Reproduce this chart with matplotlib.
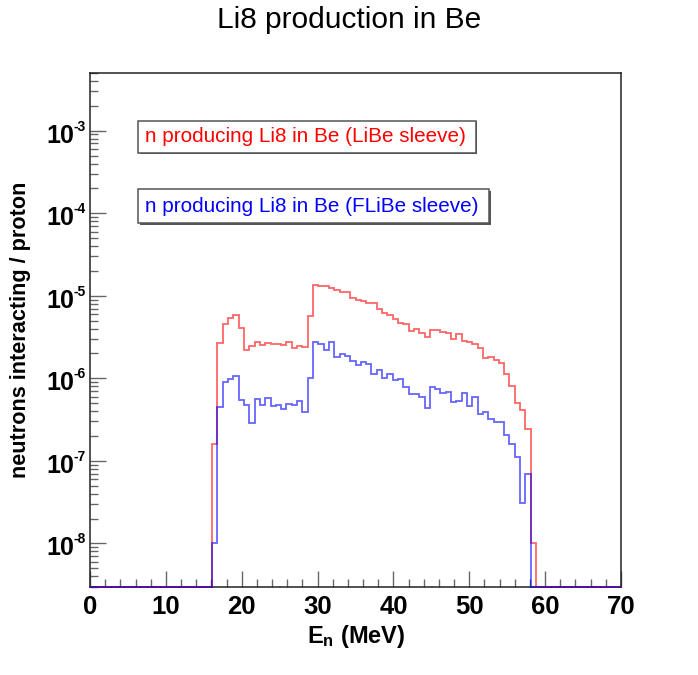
import numpy as np
import matplotlib
matplotlib.use("Agg")
import matplotlib.pyplot as plt
import matplotlib.transforms as mtransforms
from matplotlib.patches import Rectangle
from matplotlib.ticker import MultipleLocator, LogLocator, NullFormatter

plt.rcParams['font.family'] = ['Liberation Sans', 'DejaVu Sans']
plt.rcParams['mathtext.fontset'] = 'custom'
plt.rcParams['mathtext.rm'] = 'Liberation Sans'
plt.rcParams['mathtext.bf'] = 'Liberation Sans:bold'

# histogram: 100 bins of 0.7 MeV from 0 to 70, non-zero bins start at index 23
nbins = 100
xmin, xmax = 0.0, 70.0
first_bin = 23

libe_vals = [1.62e-7, 2.65e-6, 4.58e-6, 5.42e-6, 5.89e-6, 4.10e-6, 2.22e-6, 2.48e-6,
             2.73e-6, 2.55e-6, 2.70e-6, 2.62e-6, 2.62e-6, 2.55e-6, 2.77e-6, 2.33e-6,
             2.48e-6, 2.41e-6, 5.73e-6, 1.35e-5, 1.33e-5, 1.30e-5, 1.25e-5, 1.19e-5,
             1.10e-5, 1.10e-5, 9.29e-6, 8.95e-6, 8.71e-6, 8.08e-6, 8.08e-6, 6.84e-6,
             6.12e-6, 5.89e-6, 5.18e-6, 4.72e-6, 4.59e-6, 3.77e-6, 3.95e-6, 3.50e-6,
             3.13e-6, 3.88e-6, 3.88e-6, 3.67e-6, 3.57e-6, 3.02e-6, 3.40e-6, 2.85e-6,
             2.73e-6, 2.58e-6, 2.35e-6, 1.78e-6, 1.83e-6, 1.68e-6, 1.55e-6, 1.14e-6,
             8.14e-7, 5.07e-7, 4.17e-7, 2.41e-7, 1.0e-8]

flibe_vals = [1.0e-8, 4.53e-7, 9.02e-7, 9.81e-7, 1.07e-6, 5.41e-7, 4.75e-7, 2.90e-7,
              5.56e-7, 4.75e-7, 5.72e-7, 4.66e-7, 4.79e-7, 4.28e-7, 4.92e-7, 4.79e-7,
              5.36e-7, 3.94e-7, 1.02e-6, 2.73e-6, 2.58e-6, 2.22e-6, 2.73e-6, 1.83e-6,
              1.99e-6, 1.86e-6, 1.64e-6, 1.46e-6, 1.56e-6, 1.50e-6, 1.14e-6, 1.25e-6,
              1.01e-6, 1.14e-6, 9.54e-7, 9.90e-7, 7.85e-7, 6.52e-7, 6.52e-7, 5.88e-7,
              4.33e-7, 7.92e-7, 7.35e-7, 6.70e-7, 6.89e-7, 5.21e-7, 5.36e-7, 6.70e-7,
              4.62e-7, 5.99e-7, 3.73e-7, 3.94e-7, 3.19e-7, 2.99e-7, 2.99e-7, 2.08e-7,
              1.60e-7, 1.10e-7, 3.06e-8, 7.00e-8]

ymin, ymax = 3.0e-9, 5.0e-3
ytick_vals = [1e-8, 1e-7, 1e-6, 1e-5, 1e-4, 1e-3]
ytick_exps = ['-8', '-7', '-6', '-5', '-4', '-3']

title = "Li8 production in Be"
xlabel = r"$\mathbf{E_{n}}$ (MeV)"
ylabel = "neutrons interacting / proton"
legend_libe = "n producing Li8 in Be (LiBe sleeve)"
legend_flibe = "n producing Li8 in Be (FLiBe sleeve)"


def full_hist(vals):
    h = np.zeros(nbins)
    h[first_bin:first_bin + len(vals)] = vals
    # ROOT draws empty bins at the bottom of a log axis
    return np.where(h > 0, h, ymin)


W, H = 698, 675
fig = plt.figure(figsize=(W / 100, H / 100), dpi=100)
ax = fig.add_axes([90 / W, 1 - 586.5 / H, 531 / W, 513.5 / H])

edges = np.linspace(xmin, xmax, nbins + 1)
ax.stairs(full_hist(libe_vals), edges, baseline=None, color='#ff0000',
          lw=1.3, alpha=0.6, zorder=3, clip_on=False)
ax.stairs(full_hist(flibe_vals), edges, baseline=None, color='#0000ff',
          lw=1.3, alpha=0.6, zorder=4, clip_on=False)

ax.set_yscale('log')
ax.set_xlim(xmin, xmax)
ax.set_ylim(ymin, ymax)

ax.xaxis.set_major_locator(MultipleLocator(10))
ax.xaxis.set_minor_locator(MultipleLocator(2))
ax.set_yticks(ytick_vals)
ax.yaxis.set_major_formatter(NullFormatter())
ax.yaxis.set_minor_locator(LogLocator(base=10, subs=np.arange(2, 10)))
ax.yaxis.set_minor_formatter(NullFormatter())

ax.tick_params(which='both', direction='in', top=False, right=False, color='#666666', width=1)
ax.tick_params(which='major', length=11.5)
ax.tick_params(which='minor', length=5.8)
ax.tick_params(axis='x', which='major', labelsize=18.5, pad=6)
for lab in ax.get_xticklabels():
    lab.set_fontweight('bold')

# ROOT style 10^{n} labels: big "10", small raised exponent
ytrans = ax.get_yaxis_transform()
for v, e in zip(ytick_vals, ytick_exps):
    t_base = mtransforms.offset_copy(ytrans, fig, x=-16, y=-12, units='dots')
    ax.text(0, v, "10", transform=t_base, ha='right', va='baseline',
            fontsize=18, fontweight='bold', clip_on=False)
    t_exp = mtransforms.offset_copy(ytrans, fig, x=-16, y=0, units='dots')
    ax.text(0, v, e, transform=t_exp, ha='left', va='baseline',
            fontsize=10, fontweight='bold', clip_on=False)

for s in ax.spines.values():
    s.set_linewidth(1.1)
    s.set_color('#222222')

fig.text(349 / W, 1 - 20 / H, title, ha='center', va='center', fontsize=21.5)
fig.text(356 / W, 1 - 636 / H, xlabel, ha='center', va='center', fontsize=17, fontweight='bold')
fig.text(21 / W, 1 - 330 / H, ylabel, ha='center', va='center', fontsize=15.6,
         fontweight='bold', rotation=90)

# boxed labels, ROOT TPaveText style with a small shadow
boxes = [(138.3, 120.7, 476.0, 152.7, legend_libe, '#ff0000'),
         (138.3, 189.0, 489.3, 223.3, legend_flibe, '#0000ff')]
for x0, y0, x1, y1, txt, col in boxes:
    fx, fy = x0 / W, 1 - y1 / H
    fw, fh = (x1 - x0) / W, (y1 - y0) / H
    fig.patches.append(Rectangle((fx + 1.5 / W, fy - 1.5 / H), fw, fh, transform=fig.transFigure,
                                 facecolor='#555555', edgecolor='none', zorder=5))
    fig.patches.append(Rectangle((fx, fy), fw, fh, transform=fig.transFigure,
                                 facecolor='white', edgecolor='#555555', lw=1.1, zorder=6))
    fig.text((x0 + 7) / W, 1 - (y0 + y1) / 2 / H, txt, ha='left', va='center',
             color=col, fontsize=14.9, zorder=7)

fig.savefig('out.png', dpi=100)
